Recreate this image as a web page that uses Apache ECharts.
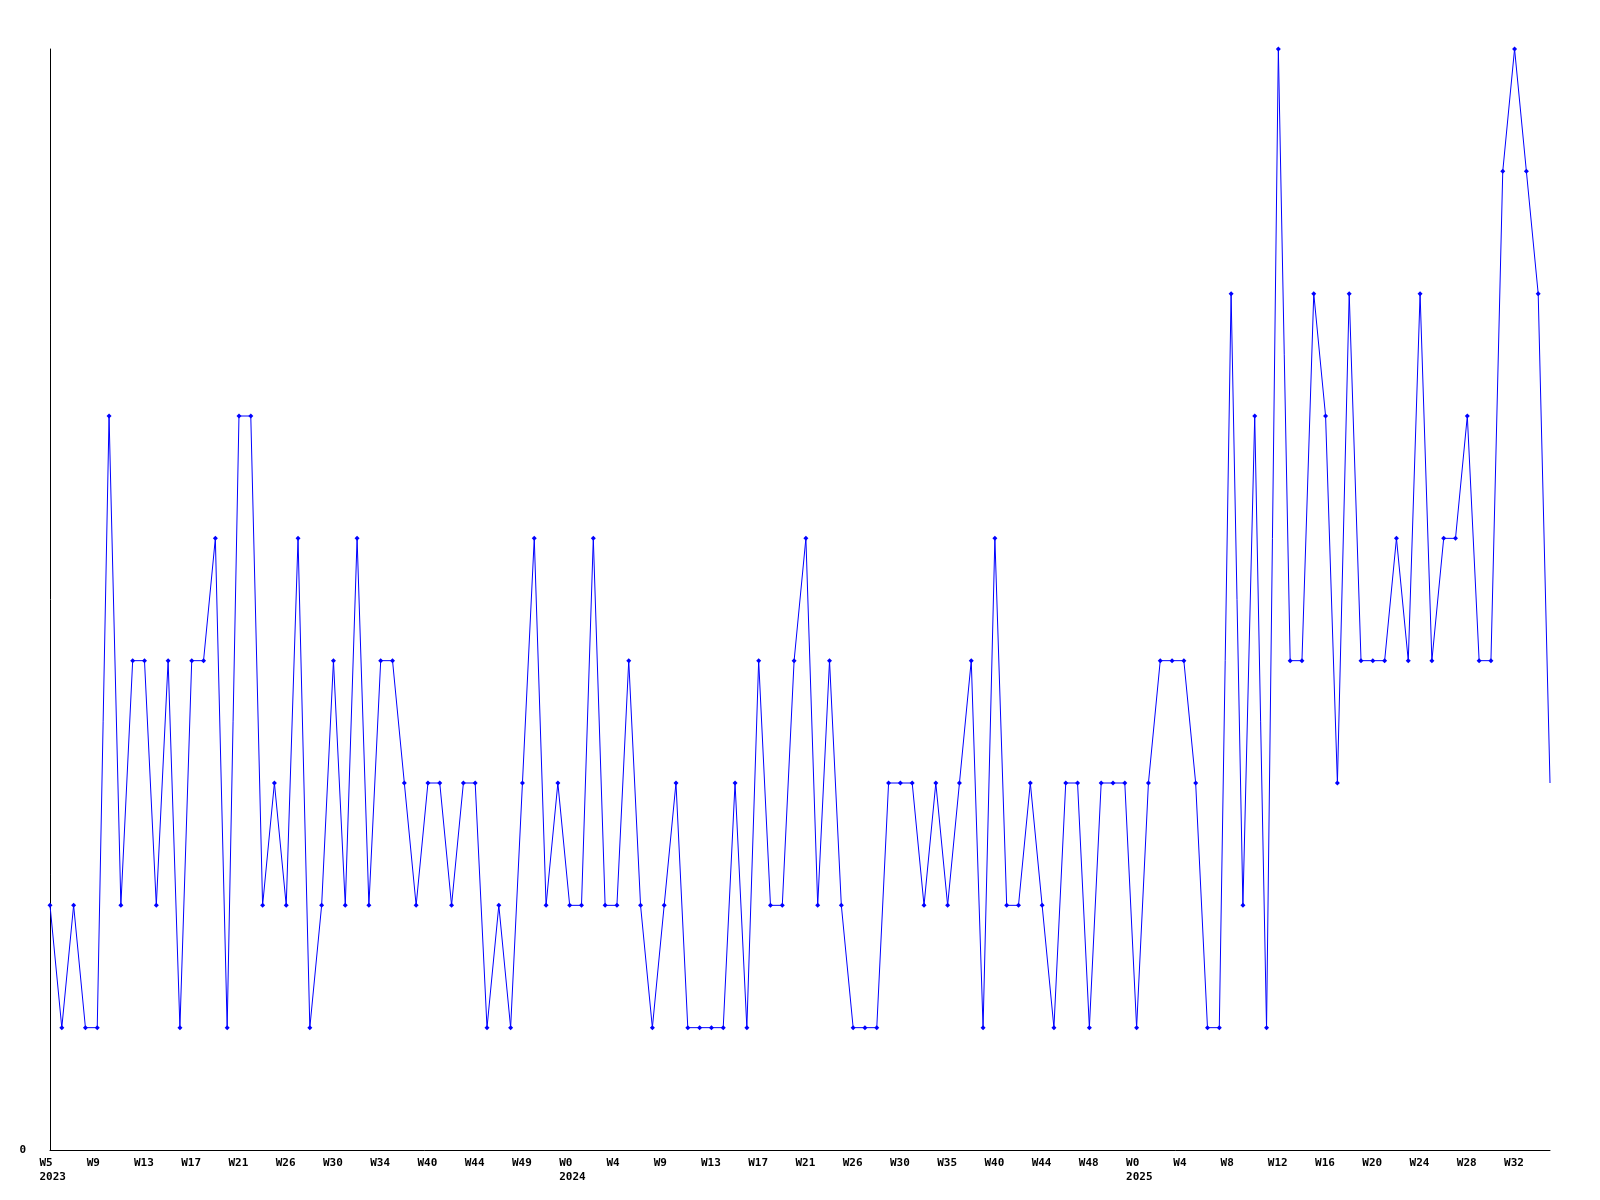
<!DOCTYPE html>
<html>
<head>
<meta charset="utf-8">
<script src="https://cdn.jsdelivr.net/npm/echarts@6/dist/echarts.min.js"></script>
<style>
html,body{margin:0;padding:0;background:#fff;}
#chart{width:1600px;height:1200px;}
</style>
</head>
<body>
<div id="chart"></div>
<script>
// Week numbers (%W) of each data row, per year
const weeks2023 = [5,6,7,8,9,10,11,12,13,14,15,16,17,18,19,20,21,22,23,25,26,27,28,29,30,31,32,33,34,35,36,38,40,41,42,43,44,45,46,48,49,50,51,52];
const weeks2024 = [0,1,2,3,4,5,6,8,9,10,11,12,13,14,15,16,17,18,19,20,21,22,23,25,26,27,28,29,30,31,33,34,35,36,37,38,40,41,42,43,44,45,46,47,48,49,50,52];
const weeks2025 = [0,1,2,3,4,5,6,7,8,9,10,11,12,13,14,15,16,17,18,19,20,21,22,23,24,25,26,27,28,29,30,31,32,33,34,35];

// Values per row
const values2023 = [2,1,2,1,1,6,2,4,4,2, 4,1,4,4,5,1,6,6,2,3, 2,5,1,2,4,2,5,2,4,4, 3,2,3,3,2,3,3,1,2,1, 3,5,2,3];
const values2024 = [2,2,5,2,2,4, 2,1,2,3,1,1,1,1,3,1, 4,2,2,4,5,2,4,2,1,1, 1,3,3,3,2,3,2,3,4,1, 5,2,2,3,2,1,3,3,1,3, 3,3];
const values2025 = [1,3,4,4,4,3,1,1, 7,2,6,1,9,4,4,7,6,3, 7,4,4,4,5,4,7,4,5,5, 6,4,4,8,9,8,7,3];

const yMax = 9;
const labelEvery = 4;

const categories = []
  .concat(weeks2023.map(w => '2023-W' + w))
  .concat(weeks2024.map(w => '2024-W' + w))
  .concat(weeks2025.map(w => '2025-W' + w));
const values = [].concat(values2023, values2024, values2025);

const FONT = "'DejaVu Sans Mono', 'Liberation Mono', monospace";

const seriesData = values.map((v, i) => i === values.length - 1 ? { value: v, symbol: 'none' } : v);

const chart = echarts.init(document.getElementById('chart'), null, { renderer: 'canvas' });
chart.setOption({
  animation: false,
  backgroundColor: '#ffffff',
  grid: { left: 50, right: 50, top: 49, bottom: 50, containLabel: false },
  xAxis: {
    type: 'category',
    data: categories,
    boundaryGap: false,
    axisLine: { show: true, lineStyle: { color: '#000', width: 1 } },
    axisTick: { show: false },
    splitLine: { show: false },
    axisLabel: {
      interval: labelEvery - 1,
      margin: 6,
      align: 'center',
      formatter: function (val, idx) {
        const parts = val.split('-W');
        const year = parts[0], wk = parts[1];
        const prev = idx - labelEvery >= 0 ? categories[idx - labelEvery].split('-W')[0] : null;
        if (prev !== year) return '{a|W' + wk + '}\n{a|' + year + '}';
        return '{a|W' + wk + '}';
      },
      rich: {
        a: { width: 21, align: 'left', fontFamily: FONT, fontSize: 11, fontWeight: 'bold', lineHeight: 14, color: '#000' }
      }
    }
  },
  yAxis: {
    type: 'value',
    min: 0,
    max: yMax,
    interval: 1,
    axisLine: { show: true, lineStyle: { color: '#000', width: 1 } },
    axisTick: { show: false },
    splitLine: { show: false },
    axisLabel: {
      margin: 24,
      fontFamily: FONT, fontSize: 11, fontWeight: 'bold', color: '#000',
      formatter: v => (v === 0 ? '0' : '')
    }
  },
  series: [{
    type: 'line',
    data: seriesData,
    symbol: 'diamond',
    symbolSize: 5,
    showAllSymbol: true,
    lineStyle: { color: '#0000ff', width: 1 },
    itemStyle: { color: '#0000ff' }
  }]
});
</script>
</body>
</html>
